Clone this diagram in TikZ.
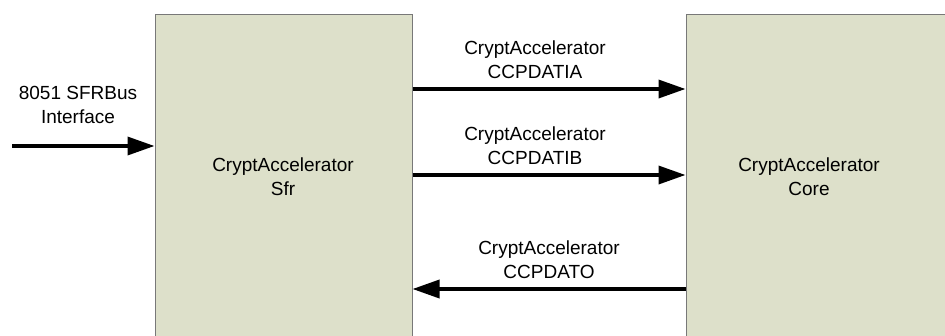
\documentclass[tikz,border=0pt]{standalone}
\usepackage{fontspec}
\setmainfont{Liberation Sans}
\usetikzlibrary{arrows.meta}
\definecolor{boxfill}{RGB}{221,224,202}
\definecolor{boxline}{RGB}{120,120,120}
\begin{document}
\begin{tikzpicture}[x=1pt,y=-1pt,
  blk/.style={draw=boxline,line width=1pt,fill=boxfill,inner sep=0pt},
  txt/.style={align=center,font=\fontsize{19}{24}\selectfont,inner sep=0pt},
  arr/.style={line width=3.5pt,-{Triangle[length=27pt,width=18pt]}}]
\useasboundingbox (0,0) rectangle (945,335);
\begin{scope}
\clip (0,0) rectangle (945,335);
\node[blk,minimum width=257pt,minimum height=324pt] (sfr) at (283.5,176) {};
\node[blk,minimum width=262pt,minimum height=324pt] (core) at (817,176) {};
\end{scope}
\node[txt] (sfrlbl) at (283,176.5) {CryptAccelerator\\Sfr};
\node[txt] (corelbl) at (809,176.5) {CryptAccelerator\\Core};
\coordinate (yin) at (12,146);
\coordinate (ya) at (0,89);
\coordinate (yb) at (0,175);
\coordinate (yo) at (0,289);
\draw[arr] (yin) -- (yin -| sfr.west);
\draw[arr] (ya -| sfr.east) -- (ya -| core.west);
\draw[arr] (yb -| sfr.east) -- (yb -| core.west);
\draw[arr] (yo -| core.west) -- (yo -| sfr.east);
\node[txt] (lin) at (78,104.5) {8051 SFRBus\\Interface};
\node[txt] (la) at (535,60) {CryptAccelerator\\CCPDATIA};
\node[txt] (lb) at (535,145.5) {CryptAccelerator\\CCPDATIB};
\node[txt] (lo) at (549,259.5) {CryptAccelerator\\CCPDATO};
\end{tikzpicture}
\end{document}
